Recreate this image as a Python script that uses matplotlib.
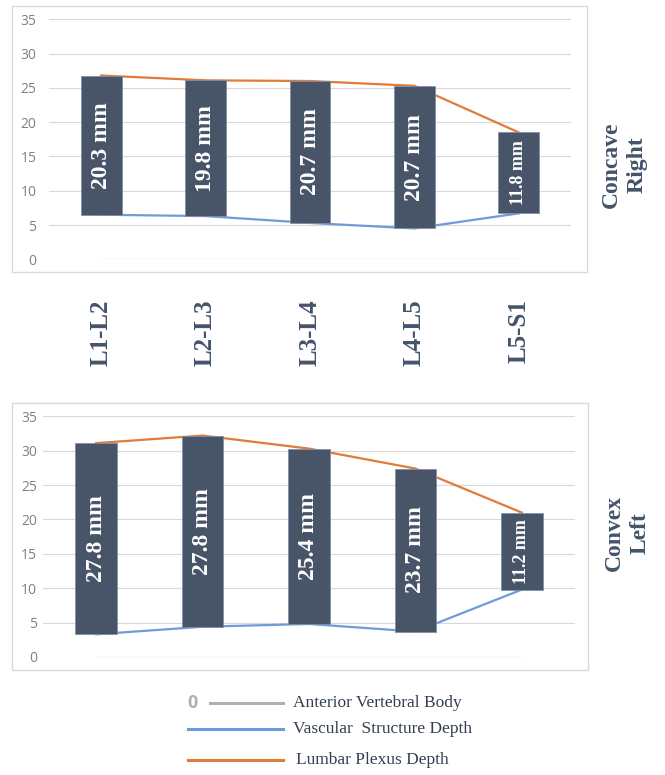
import numpy as np
import matplotlib
matplotlib.use("Agg")
from matplotlib import pyplot as plt
from matplotlib.patches import Rectangle
from matplotlib.lines import Line2D

levels = ["L1-L2", "L2-L3", "L3-L4", "L4-L5", "L5-S1"]

# concave (right) side
right_vascular = [6.5, 6.3, 5.3, 4.5, 6.7]
right_plexus = [26.8, 26.1, 26.0, 25.3, 18.5]
right_labels = ["20.3 mm", "19.8 mm", "20.7 mm", "20.7 mm", "11.8 mm"]

# convex (left) side
left_vascular = [3.3, 4.4, 4.8, 3.7, 9.8]
left_plexus = [31.1, 32.2, 30.3, 27.4, 21.0]
left_labels = ["27.8 mm", "27.8 mm", "25.4 mm", "23.7 mm", "11.2 mm"]

anterior = [0, 0, 0, 0, 0]

yticks = [0, 5, 10, 15, 20, 25, 30, 35]

bar_color = "#485468"
orange = "#e07b39"
blue = "#6f9bd8"
gray = "#b0b0b0"
dark = "#44546a"
W, H = 665, 775

fig = plt.figure(figsize=(6.65, 7.75), dpi=100)


def fx(px):
    return px / W


def fy(py):
    return 1 - py / H


def panel(rect, vasc, plex, labels, small_idx):
    ax = fig.add_axes(rect)
    x = np.arange(len(levels))
    vasc = np.array(vasc)
    plex = np.array(plex)
    ax.plot(x, anterior, color="#d9d9d9", lw=0.8, zorder=1)
    ax.plot(x, vasc, color=blue, lw=1.6, zorder=2)
    ax.plot(x, plex, color=orange, lw=1.6, zorder=2)
    ax.bar(x, plex - vasc, bottom=vasc, width=0.39, color=bar_color,
           edgecolor="#8090a8", linewidth=0.6, zorder=3)
    for i in range(len(x)):
        size = 13 if i == small_idx else 17
        ax.text(x[i], (vasc[i] + plex[i]) / 2, labels[i], rotation=90,
                ha="center", va="center", color="white", fontsize=size,
                fontweight="bold", family="Liberation Serif", zorder=4)
    ax.set_xlim(-0.5, 4.5)
    ax.set_ylim(0, 35)
    ax.set_yticks(yticks)
    ax.yaxis.grid(True, color="#d9d9d9", lw=0.8)
    ax.set_axisbelow(True)
    for s in ax.spines.values():
        s.set_visible(False)
    ax.tick_params(axis="y", length=0, labelsize=10, labelcolor="#808080")
    ax.tick_params(axis="x", length=0)
    for t in ax.get_yticklabels():
        t.set_family("Open Sans")
    return ax


ax1 = panel([fx(49), fy(259.3), fx(522), 240 / H], right_vascular,
            right_plexus, right_labels, 4)
ax1.set_xticks(np.arange(len(levels)))
ax1.set_xticklabels(levels, rotation=90, fontsize=18, fontweight="bold",
                    family="Liberation Serif", color=dark, va="top")
ax1.tick_params(axis="x", pad=29)
ax1.tick_params(axis="y", pad=9)

ax2 = panel([fx(43), fy(657), fx(532), 240.7 / H], left_vascular,
            left_plexus, left_labels, 4)
ax2.set_xticks([])
ax2.tick_params(axis="y", pad=4.5)

# chart borders
for (x0, y0, x1, y1) in [(12, 6, 587, 272), (12, 403, 588, 670)]:
    fig.patches.append(Rectangle((fx(x0), fy(y1)), fx(x1 - x0), (y1 - y0) / H,
                                 transform=fig.transFigure, fill=False,
                                 edgecolor="#d9d9d9", lw=1.0))

fig.text(fx(624), fy(165), "Concave\nRight", rotation=90, ha="center",
         va="center", fontsize=17, fontweight="bold", family="Liberation Serif",
         color=dark, linespacing=1.3)
fig.text(fx(627), fy(533), "Convex\nLeft", rotation=90, ha="center",
         va="center", fontsize=17, fontweight="bold", family="Liberation Serif",
         color=dark, linespacing=1.3)

# legend
legend_items = [
    ("Anterior Vertebral Body", gray, 703, 210, 293),
    ("Vascular  Structure Depth", blue, 729, 188, 293),
    ("Lumbar Plexus Depth", orange, 760, 188, 296),
]
for label, col, py, x0, tx in legend_items:
    fig.lines.append(Line2D([fx(x0), fx(283)], [fy(py), fy(py)], color=col,
                            lw=2.2, transform=fig.transFigure))
    fig.text(fx(tx), fy(py), label, ha="left", va="center", fontsize=12.5,
             family="Liberation Serif", color="#333f50")
fig.text(fx(192), fy(703), "0", ha="center", va="center", fontsize=13,
         fontweight="bold", family="Open Sans", color=gray)

fig.savefig("out.png", dpi=100)
